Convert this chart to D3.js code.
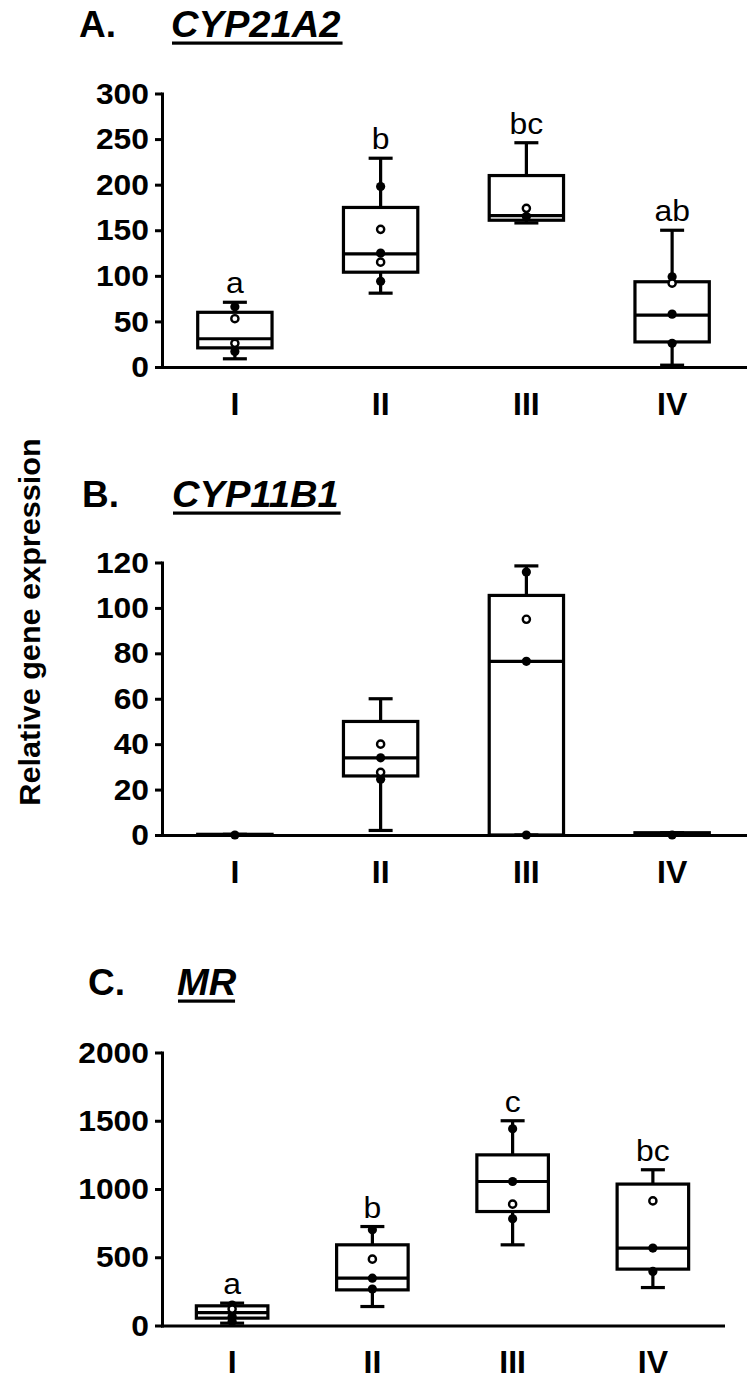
<!DOCTYPE html>
<html lang="en">
<head>
<meta charset="UTF-8">
<title>Relative gene expression</title>
<script src="https://d3js.org/d3.v7.min.js"></script>
<style>
  body { margin: 0; background: #fff; }
  svg text { font-family: "Liberation Sans", Arial, sans-serif; fill: #000; }
</style>
</head>
<body>
<svg id="chart" width="749" height="1383"></svg>
<script>
const groups = ["I", "II", "III", "IV"];

// A. CYP21A2
const minA = [9, 81, 158, 2];
const q1A = [21, 104, 161, 27.5];
const medA = [31, 124, 166, 57];
const q3A = [60, 175, 210, 93.5];
const maxA = [71, 229, 246, 150];
const filledA = [[66, 17], [198, 125, 94], [165], [99, 58, 26]];
const openA = [[53, 26], [151, 115], [174], [92]];
const lettersA = ["a", "b", "bc", "ab"];

// B. CYP11B1
const minB = [0, 2, 0, 0];
const q1B = [0, 26, 0, 0];
const medB = [0, 34, 76.5, 0.5];
const q3B = [0.3, 50, 105.5, 1];
const maxB = [0.3, 60, 118.5, 1];
const filledB = [[0], [34, 24.5], [115.8, 76.5, 0], [0]];
const openB = [[], [40, 27.6], [95], []];

// C. MR
const minC = [17, 139, 591, 278];
const q1C = [54, 261, 835, 413];
const medC = [95, 347, 1055, 567];
const q3C = [144, 591, 1250, 1036];
const maxC = [164, 725, 1500, 1141];
const filledC = [[150, 66, 30], [701, 347, 267], [1441, 1055, 782], [567, 396]];
const openC = [[120], [486], [889], [913]];
const lettersC = ["a", "b", "c", "bc"];

const panels = [
  { tag: "A.", gene: "CYP21A2", tagX: 79, geneX: 171, titleY: 37, yMax: 300, yStep: 50, y0: 367, yTop: 93.5, xRange: [162, 745],
    min: minA, q1: q1A, med: medA, q3: q3A, max: maxA, filled: filledA, open: openA, letters: lettersA },
  { tag: "B.", gene: "CYP11B1", tagX: 82, geneX: 172, titleY: 507, yMax: 120, yStep: 20, y0: 835, yTop: 562.5, xRange: [162, 745],
    min: minB, q1: q1B, med: medB, q3: q3B, max: maxB, filled: filledB, open: openB, letters: null },
  { tag: "C.", gene: "MR", tagX: 88, geneX: 177, titleY: 995, yMax: 2000, yStep: 500, y0: 1325.5, yTop: 1052.5, xRange: [162, 723],
    min: minC, q1: q1C, med: medC, q3: q3C, max: maxC, filled: filledC, open: openC, letters: lettersC }
];

const svg = d3.select("#chart");

// widen text a little, the original lettering is broader than Arial
function stretch(sel, k) {
  sel.each(function () {
    const w = this.getComputedTextLength();
    d3.select(this).attr("textLength", w * k).attr("lengthAdjust", "spacingAndGlyphs");
  });
}

panels.forEach(p => {
  const x = d3.scaleBand().domain(groups).range(p.xRange);
  const y = d3.scaleLinear().domain([0, p.yMax]).range([p.y0, p.yTop]);
  const g = svg.append("g");

  // titles
  g.append("text").attr("x", p.tagX).attr("y", p.titleY)
    .attr("font-size", 37).attr("font-weight", "bold").text(p.tag);
  const gene = g.append("text").attr("x", p.geneX).attr("y", p.titleY)
    .attr("font-size", 37).attr("font-weight", "bold").attr("font-style", "italic").text(p.gene);
  stretch(gene, 1.03);
  const gw = gene.node().getComputedTextLength() * 1.03;
  g.append("rect").attr("x", p.geneX + 1).attr("y", p.titleY + 4.5).attr("width", gw - 4).attr("height", 3.2).attr("fill", "#000");

  // y axis
  const ya = g.append("g").attr("transform", `translate(${p.xRange[0]},0)`)
    .call(d3.axisLeft(y).tickValues(d3.range(0, p.yMax + 1, p.yStep))
      .tickSize(7).tickSizeOuter(0).tickPadding(6).tickFormat(d3.format("d")));
  ya.select(".domain").attr("stroke-width", 3).attr("stroke-linecap", "square");
  ya.selectAll(".tick line").attr("stroke-width", 3);
  ya.selectAll(".tick text").attr("font-size", 30).attr("font-weight", "bold")
    .attr("font-family", '"Liberation Sans", Arial, sans-serif');
  stretch(ya.selectAll(".tick text"), 1.06);

  // x axis
  const xa = g.append("g").attr("transform", `translate(0,${p.y0})`)
    .call(d3.axisBottom(x).tickSize(0).tickSizeOuter(0).tickPadding(25));
  xa.select(".domain").attr("stroke-width", 3).attr("stroke-linecap", "square");
  xa.selectAll(".tick text").attr("font-size", 32).attr("font-weight", "bold")
    .attr("font-family", '"Liberation Sans", Arial, sans-serif');

  // boxes
  const rows = groups.map((grp, i) => ({
    grp, min: p.min[i], q1: p.q1[i], med: p.med[i], q3: p.q3[i], max: p.max[i],
    filled: p.filled[i], open: p.open[i], letter: p.letters ? p.letters[i] : null
  }));
  const bw = x.bandwidth() * 0.51;
  const cap = 24;

  const box = g.selectAll(".box").data(rows).join("g").attr("class", "box")
    .attr("transform", d => `translate(${x(d.grp) + x.bandwidth() / 2},0)`);

  box.append("line").attr("x1", 0).attr("x2", 0)
    .attr("y1", d => y(d.max)).attr("y2", d => y(d.q3));
  box.append("line").attr("x1", 0).attr("x2", 0)
    .attr("y1", d => y(d.q1)).attr("y2", d => y(d.min));
  box.append("line").attr("x1", -cap / 2).attr("x2", cap / 2)
    .attr("y1", d => y(d.max)).attr("y2", d => y(d.max));
  box.append("line").attr("x1", -cap / 2).attr("x2", cap / 2)
    .attr("y1", d => y(d.min)).attr("y2", d => y(d.min));
  box.append("rect").attr("x", -bw / 2).attr("width", bw)
    .attr("y", d => y(d.q3)).attr("height", d => y(d.q1) - y(d.q3))
    .attr("fill", "none");
  box.append("line").attr("x1", -bw / 2).attr("x2", bw / 2)
    .attr("y1", d => y(d.med)).attr("y2", d => y(d.med));
  box.selectAll("line, rect").attr("stroke", "#000").attr("stroke-width", 3.2);

  box.selectAll(".pf").data(d => d.filled).join("circle").attr("class", "pf")
    .attr("cx", 0).attr("cy", v => y(v)).attr("r", 4.6).attr("fill", "#000");
  box.selectAll(".po").data(d => d.open).join("circle").attr("class", "po")
    .attr("cx", 0).attr("cy", v => y(v)).attr("r", 3.6)
    .attr("fill", "#fff").attr("stroke", "#000").attr("stroke-width", 2.4);

  // significance letters
  if (p.letters) {
    const lt = box.append("text").attr("x", 0).attr("y", d => y(d.max) - 9)
      .attr("text-anchor", "middle").attr("font-size", 29).text(d => d.letter);
    stretch(lt, 1.1);
  }
});

// shared y title
const yTitle = svg.append("text")
  .attr("transform", "translate(40,622) rotate(-90)")
  .attr("text-anchor", "middle").attr("font-size", 30).attr("font-weight", "bold")
  .text("Relative gene expression");
stretch(yTitle, 1.02);
</script>
</body>
</html>
